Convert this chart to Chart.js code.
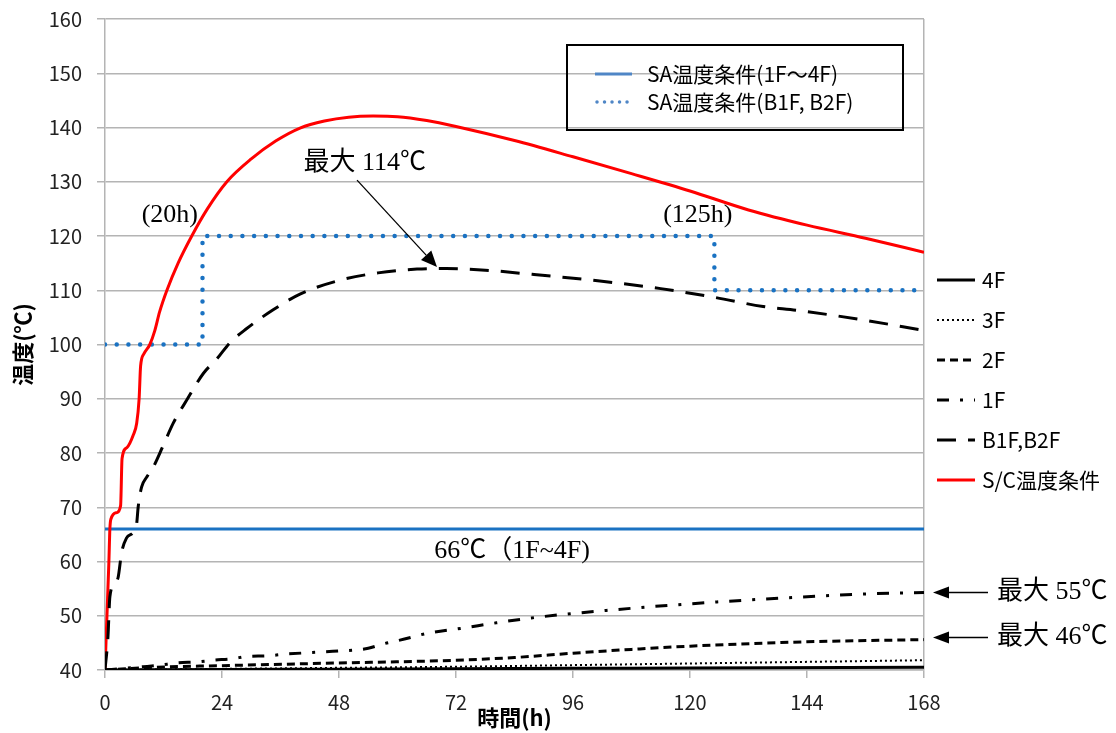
<!DOCTYPE html>
<html><head><meta charset="utf-8">
<script src="https://cdn.jsdelivr.net/npm/chart.js@4.4.1/dist/chart.umd.min.js"></script>
<style>html,body{margin:0;padding:0;background:#fff}#wrap{width:1116px;height:733px}</style>
</head><body><div id="wrap"><canvas id="c" width="1116" height="733"></canvas></div>
<script>
const xTicks = [0,24,48,72,96,120,144,168];
const yTicks = [40,50,60,70,80,90,100,110,120,130,140,150,160];
const labels = ['4F','3F','2F','1F','B1F,B2F','S/C温度条件','SA温度条件(1F～4F)','SA温度条件(B1F, B2F)'];

const f4 = [[0,40],[24,40.1],[48,40.15],[96,40.3],[120,40.35],[168,40.5]];
const f3 = [[0,40],[24,40.2],[48,40.4],[72,40.6],[96,40.9],[120,41.2],[144,41.5],[168,41.8]];
const f2 = [[0,40],[10,40.5],[24,40.8],[48,41.3],[72,41.8],[84,42.3],[96,43.1],[108,43.8],[120,44.4],[144,45.2],[168,45.6]];
const f1 = [[0,40],[4,40.3],[7.8,40.6],[11.3,40.9],[14.7,41.3],[19.1,41.5],[22.2,41.8],[26.3,42.1],[29.1,42.5],[33.2,42.6],[36.6,42.9],[42,43.2],[48,43.5],[54,44],[57,44.8],[60.5,45.5],[66.3,46.8],[73.2,47.7],[80.3,48.7],[87.5,49.6],[94.7,50.3],[109.7,51.5],[124.8,52.5],[139.8,53.3],[155.2,54.0],[168,54.3]];
const fB = [[0,40],[0.6,46],[1.0,53.5],[2.0,56],[2.7,57.1],[3.4,61.6],[4.4,64.3],[5.8,65.4],[6.5,67],[6.8,70],[7.5,73.7],[8.6,75.6],[9.9,77.4],[12,81.5],[14,85.5],[16.8,89.8],[20.2,94.7],[23,97.4],[25.6,100.3],[29,102.9],[34.5,106.4],[40,109.3],[48,111.8],[56,113.2],[64,113.9],[70,114.0],[78,113.7],[88,112.9],[101.5,111.7],[114,110.3],[125,108.7],[135,107.0],[142,106.3],[155,104.6],[168,102.6]];
const sc = [[0,40],[0.4,50],[0.8,60],[1.0,66],[1.2,67.8],[2.4,69],[3.2,70.3],[3.5,79],[4.5,81],[5.8,83.3],[6.5,85.5],[7.0,90],[7.3,96],[8,98.3],[9.2,100],[10.2,102.5],[11.2,106],[12.7,110],[15,115],[17.8,120],[21,125],[25,130],[30,134.2],[35,137.5],[40,139.9],[45,141.2],[50,141.9],[55,142.1],[60,142],[66,141.3],[72,140.2],[84,137.6],[96,134.6],[108,131.5],[120,128.3],[132,124.8],[144,122],[156,119.6],[168,117]];
const sa1 = [[0,66],[168,66]];
const sa2 = [[0,100],[20,100],[20,120],[125,120],[125,110],[168,110]];

const pts = a => a.map(p => ({x:p[0], y:p[1]}));
const BLUE = '#1a72c2';
const styles = [
  {borderColor:'#000', borderWidth:3, borderDash:[]},
  {borderColor:'#000', borderWidth:2, borderDash:[2,3]},
  {borderColor:'#000', borderWidth:3, borderDash:[8,5]},
  {borderColor:'#000', borderWidth:3, borderDash:[12,11,3,11]},
  {borderColor:'#000', borderWidth:3, borderDash:[19,12]},
  {borderColor:'#ff0000', borderWidth:3, borderDash:[]},
  {borderColor:BLUE, borderWidth:3, borderDash:[]},
  {borderColor:BLUE, borderWidth:4.5, borderDash:[0.01,11.7], borderCapStyle:'round'}
];
const series = [f4,f3,f2,f1,fB,sc,sa1,sa2];
const datasets = series.map((s,i) => Object.assign({
  label: labels[i], data: pts(s), pointRadius:0, fill:false,
  cubicInterpolationMode: i < 6 ? 'monotone' : 'default', tension:0
}, styles[i]));

const serifFont = '26px "Liberation Serif", "Noto Sans CJK JP", serif';
const sansFont = '21px "Noto Sans CJK JP", "Noto Sans", sans-serif';

function arrow(ctx, x1, y1, x2, y2, head, width, lw){
  const ang = Math.atan2(y2-y1, x2-x1);
  const bx = x2 - head*Math.cos(ang), by = y2 - head*Math.sin(ang);
  ctx.beginPath(); ctx.moveTo(x1,y1); ctx.lineTo(bx,by);
  ctx.lineWidth = lw; ctx.strokeStyle = '#000'; ctx.setLineDash([]); ctx.stroke();
  ctx.beginPath(); ctx.moveTo(x2,y2);
  ctx.lineTo(bx + width*Math.sin(ang), by - width*Math.cos(ang));
  ctx.lineTo(bx - width*Math.sin(ang), by + width*Math.cos(ang));
  ctx.closePath(); ctx.fillStyle = '#000'; ctx.fill();
}

function legendLine(ctx, ds, x1, x2, y, colorOverride){
  ctx.save();
  ctx.beginPath(); ctx.moveTo(x1,y); ctx.lineTo(x2,y);
  ctx.strokeStyle = colorOverride || ds.borderColor;
  ctx.lineWidth = ds.borderWidth;
  ctx.setLineDash(ds.borderDash || []);
  ctx.lineCap = ds.borderCapStyle || 'butt';
  ctx.stroke();
  ctx.restore();
}

const annot = {
  id:'annot',
  afterDraw(chart){
    const {ctx, chartArea, scales:{x, y}} = chart;
    const ds = chart.data.datasets;
    ctx.save();
    ctx.fillStyle = '#000'; ctx.font = serifFont; ctx.textBaseline = 'middle';
    ctx.textAlign = 'center';
    ctx.fillText('最大 114℃', x.getPixelForValue(53.3), y.getPixelForValue(133.5));
    arrow(ctx, x.getPixelForValue(51.7), y.getPixelForValue(130.3), x.getPixelForValue(68.1), y.getPixelForValue(114.3), 16, 7, 1.3);
    ctx.fillText('(20h)', x.getPixelForValue(13.3), y.getPixelForValue(123.9));
    ctx.fillText('(125h)', x.getPixelForValue(121.6), y.getPixelForValue(123.9));
    ctx.fillText('66℃（1F~4F)', x.getPixelForValue(83.5), y.getPixelForValue(61.9));
    ctx.textAlign = 'left';
    const R = chartArea.right;
    [[54.3,'最大 55℃'],[46.0,'最大 46℃']].forEach(([v,t]) => {
      const py = y.getPixelForValue(v);
      arrow(ctx, R+64, py, R+9, py, 16, 6, 1.5);
      ctx.fillText(t, R+73, py);
    });
    ctx.lineWidth = 2; ctx.strokeStyle = '#000'; ctx.setLineDash([]);
    ctx.strokeRect(567, 45, 336, 85);
    ctx.font = sansFont; ctx.fillStyle = '#000';
    legendLine(ctx, ds[6], 595, 632, 74, '#4f86c6');
    ctx.fillText(ds[6].label, 647, 74);
    legendLine(ctx, Object.assign({}, ds[7], {borderWidth:3.5, borderDash:[0.01,7.5]}), 597, 632, 102, '#4f86c6');
    ctx.fillText(ds[7].label, 647, 102);
    for (let i = 0; i < 6; i++) {
      const yy = 280 + i*40;
      legendLine(ctx, ds[i], 937, 975, yy);
      ctx.fillStyle = '#000';
      ctx.fillText(ds[i].label, 982, yy);
    }
    ctx.restore();
  }
};

const GRID = '#b4b4b4';
const TF = '"Noto Sans CJK JP", "Noto Sans", sans-serif';
new Chart(document.getElementById('c'), {
  type:'line',
  data:{datasets},
  options:{
    responsive:false, animation:false, devicePixelRatio:1,
    layout:{padding:{top:19, right:192, left:0, bottom:0}},
    plugins:{legend:{display:false}, tooltip:{enabled:false}},
    scales:{
      x:{type:'linear', min:0, max:168,
        afterBuildTicks: s => { s.ticks = xTicks.map(v => ({value:v})); },
        afterFit: s => { s.height = 63; s.paddingLeft = 0; s.paddingRight = 0; },
        ticks:{color:'#222', font:{family:TF, size:20}, padding:12, maxRotation:0, autoSkip:false},
        grid:{color: c => (c.tick && c.tick.value === 168) ? GRID : 'rgba(0,0,0,0)', lineWidth:1.5, tickColor:GRID, tickLength:8, drawTicks:true},
        border:{color:GRID, width:1.5},
        title:{display:true, text:'時間(h)', color:'#000', font:{family:TF, size:22, weight:'bold'}, padding:{top:0, bottom:2}}
      },
      y:{type:'linear', min:40, max:160,
        afterBuildTicks: s => { s.ticks = yTicks.map(v => ({value:v})); },
        afterFit: s => { s.width = 105; s.paddingTop = 0; s.paddingBottom = 0; },
        ticks:{color:'#222', font:{family:TF, size:20}, padding:15},
        grid:{color:GRID, lineWidth:1.5, tickColor:GRID, tickLength:8},
        border:{color:GRID, width:1.5},
        title:{display:true, text:'温度(℃)', color:'#000', font:{family:TF, size:22, weight:'bold'}, padding:{top:9, bottom:0}}
      }
    }
  },
  plugins:[annot]
});
</script></body></html>
